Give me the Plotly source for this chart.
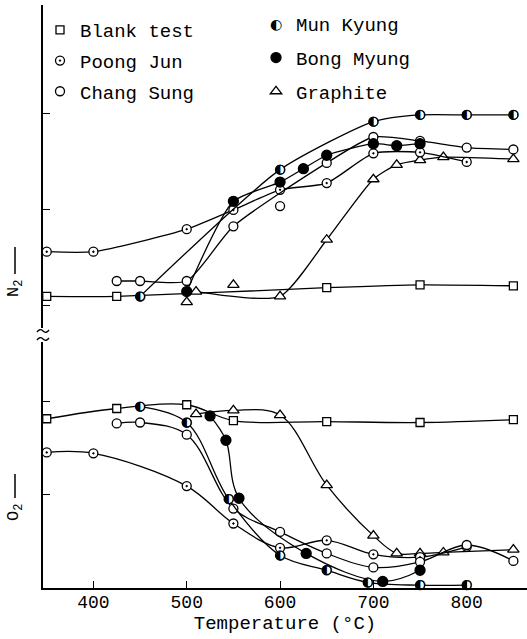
import plotly.graph_objects as go

# ---------------- data ----------------
# Upper panel: N2 signal (arbitrary units)
blank_n2_T = [350, 425, 650, 750, 850]
blank_n2 = [0.09, 0.09, 0.18, 0.21, 0.20]
poong_n2_T = [350, 400, 500, 550, 600, 650, 700, 750, 800]
poong_n2 = [0.555, 0.555, 0.79, 0.99, 1.20, 1.27, 1.58, 1.59, 1.49]
chang_n2_T = [425, 450, 500, 550, 650, 700, 750, 800, 850]
chang_n2 = [0.25, 0.25, 0.25, 0.82, 1.48, 1.75, 1.71, 1.64, 1.62]
chang_n2_extra_T = [600]
chang_n2_extra = [1.03]
mun_n2_T = [450, 600, 700, 750, 800, 850]
mun_n2 = [0.09, 1.41, 1.91, 1.98, 1.98, 1.98]
bong_n2_T = [500, 550, 600, 625, 650, 700, 725, 750]
bong_n2 = [0.14, 1.08, 1.28, 1.42, 1.56, 1.68, 1.66, 1.68]
graph_n2_T = [510, 600, 650, 700, 725, 750, 775, 850]
graph_n2 = [0.14, 0.09, 0.68, 1.31, 1.46, 1.51, 1.54, 1.52]
graph_n2_extra_T = [500, 550]
graph_n2_extra = [0.03, 0.21]

# Lower panel: O2 signal (arbitrary units)
blank_o2_T = [350, 425, 500, 550, 650, 750, 850]
blank_o2 = [1.81, 1.92, 1.96, 1.79, 1.78, 1.77, 1.80]
poong_o2_T = [350, 400, 500, 550, 600, 650, 700, 750, 800]
poong_o2 = [1.45, 1.44, 1.09, 0.69, 0.43, 0.51, 0.36, 0.33, 0.44]
chang_o2_T = [425, 450, 500, 550, 600, 650, 700, 750, 800, 850]
chang_o2 = [1.76, 1.77, 1.64, 0.85, 0.60, 0.37, 0.22, 0.28, 0.46, 0.29]
mun_o2_T = [450, 500, 545, 600, 650, 694, 750, 800]
mun_o2 = [1.94, 1.77, 0.95, 0.35, 0.19, 0.06, 0.03, 0.03]
bong_o2_T = [525, 542, 556, 628, 710, 750]
bong_o2 = [1.84, 1.58, 0.96, 0.37, 0.07, 0.19]
graph_o2_T = [510, 550, 600, 650, 700, 725, 750, 775, 850]
graph_o2 = [1.86, 1.90, 1.85, 1.10, 0.56, 0.37, 0.37, 0.38, 0.41]

x_ticks = [400, 500, 600, 700, 800]

# ---------------- styles ----------------
FONT = "Liberation Mono"
LW = 1.3
HALF = "\u25D0"  # half-filled circle glyph for Mun Kyung
styles = {
    "Blank test": dict(symbol="square", size=8, color="white"),
    "Poong Jun": dict(symbol="circle-dot", size=9, color="white"),
    "Chang Sung": dict(symbol="circle", size=9, color="white"),
    "Mun Kyung": dict(symbol="circle", size=10, color="rgba(0,0,0,0)"),
    "Bong Myung": dict(symbol="circle", size=10, color="black"),
    "Graphite": dict(symbol="triangle-up", size=10, color="white"),
}


def mk(name):
    d = dict(styles[name])
    lc = "rgba(0,0,0,0)" if name == "Mun Kyung" else "black"
    d["line"] = dict(color=lc, width=LW)
    return d


fig = go.Figure()


def add(x, y, name, yaxis, smooth, mode="lines+markers"):
    if name == "Mun Kyung":
        # line + white mask under the glyph, then the half-filled glyph on top
        fig.add_trace(go.Scatter(
            x=x, y=y, mode=mode, name=name, showlegend=False,
            xaxis="x", yaxis=yaxis, cliponaxis=False,
            line=dict(color="black", width=LW, shape="spline", smoothing=smooth),
            marker=dict(symbol="circle", size=9, color="white",
                        line=dict(color="black", width=LW))))
        fig.add_trace(go.Scatter(
            x=x, y=y, mode="text", text=[HALF] * len(x), name=name,
            showlegend=False, xaxis="x", yaxis=yaxis, cliponaxis=False,
            textposition="middle center", hoverinfo="skip",
            textfont=dict(family="DejaVu Sans", size=13, color="black")))
        return
    fig.add_trace(go.Scatter(
        x=x, y=y, mode=mode, name=name, showlegend=False,
        xaxis="x", yaxis=yaxis, cliponaxis=False,
        line=dict(color="black", width=LW, shape="spline", smoothing=smooth),
        marker=mk(name)))


# upper panel (y2)
add(blank_n2_T, blank_n2, "Blank test", "y2", 0.6)
add(graph_n2_T, graph_n2, "Graphite", "y2", 0.6)
add(graph_n2_extra_T, graph_n2_extra, "Graphite", "y2", 0.6, mode="markers")
add(poong_n2_T, poong_n2, "Poong Jun", "y2", 0.6)
add(chang_n2_T, chang_n2, "Chang Sung", "y2", 0.6)
add(chang_n2_extra_T, chang_n2_extra, "Chang Sung", "y2", 0.6, mode="markers")
add(bong_n2_T, bong_n2, "Bong Myung", "y2", 0.6)
add(mun_n2_T, mun_n2, "Mun Kyung", "y2", 0.6)

# lower panel (y)
add(blank_o2_T, blank_o2, "Blank test", "y", 1.0)
add(graph_o2_T, graph_o2, "Graphite", "y", 1.0)
add(poong_o2_T, poong_o2, "Poong Jun", "y", 1.0)
add(chang_o2_T, chang_o2, "Chang Sung", "y", 1.0)
add(bong_o2_T, bong_o2, "Bong Myung", "y", 1.0)
add(mun_o2_T, mun_o2, "Mun Kyung", "y", 1.0)

# legend entries (markers only), split in two columns
for name in ["Blank test", "Poong Jun", "Chang Sung"]:
    fig.add_trace(go.Scatter(x=[None], y=[None], mode="markers", name=name,
                             legendgroup=name, marker=mk(name), legend="legend",
                             xaxis="x", yaxis="y"))
for name in ["Mun Kyung", "Bong Myung", "Graphite"]:
    fig.add_trace(go.Scatter(x=[None], y=[None], mode="markers", name=name,
                             legendgroup=name, marker=mk(name), legend="legend2",
                             xaxis="x", yaxis="y"))

# ---------------- layout ----------------
W, H = 527, 639
ML, MR, MT, MB = 43, 0, 5, 51
PW, PH = W - ML - MR, H - MT - MB


def px(x):
    return (x - ML) / PW


def py(y):
    return (H - MB - y) / PH


axis_common = dict(showgrid=False, zeroline=False, showline=True, linecolor="black",
                   linewidth=1.5, ticks="inside", ticklen=7, tickwidth=1.3,
                   tickcolor="black", showticklabels=False)

fig.update_layout(
    width=W, height=H,
    margin=dict(l=ML, r=MR, t=MT, b=MB),
    paper_bgcolor="white", plot_bgcolor="white",
    font=dict(family=FONT, color="black", size=18),
    xaxis=dict(range=[346, 864.6], anchor="y", showgrid=False, zeroline=False,
               showline=True, linecolor="black", linewidth=1.5,
               ticks="inside", ticklen=7, tickwidth=1.3, tickcolor="black",
               tickvals=x_ticks, ticktext=[str(t) for t in x_ticks],
               tickfont=dict(family=FONT, size=18), ticklabelstandoff=-3,
               title=dict(text="Temperature (°C)", font=dict(family=FONT, size=19),
                          standoff=2)),
    yaxis=dict(domain=[0, py(342)], range=[0, (588 - 342) / 93.5],
               tickvals=[1, 2], **axis_common),
    yaxis2=dict(domain=[py(328), 1], range=[(305 - 328) / 96, 3.125],
                anchor="x", tickvals=[0, 1, 2], **axis_common),
    legend=dict(x=px(40), y=py(11), xanchor="left", yanchor="top",
                font=dict(family=FONT, size=19), bgcolor="rgba(0,0,0,0)",
                tracegroupgap=3),
    legend2=dict(x=px(256), y=py(5), xanchor="left", yanchor="top",
                 font=dict(family=FONT, size=19), bgcolor="rgba(0,0,0,0)",
                 tracegroupgap=6),
)

# half-filled glyph shown in the Mun Kyung legend slot
fig.add_annotation(x=px(276), y=py(24), xref="paper", yref="paper",
                   xanchor="center", yanchor="middle", text=HALF, showarrow=False,
                   font=dict(family="DejaVu Sans", size=14, color="black"))

# y-axis labels with arrows
fig.add_annotation(x=px(15), y=py(289), xref="paper", yref="paper",
                   xanchor="center", yanchor="middle",
                   text="N<sub>2</sub>", textangle=-90, showarrow=False,
                   font=dict(family=FONT, size=17))
fig.add_shape(type="line", xref="paper", yref="paper",
              x0=px(15), x1=px(15), y0=py(274), y1=py(247),
              line=dict(color="black", width=1.5))
fig.add_annotation(x=px(15), y=py(513), xref="paper", yref="paper",
                   xanchor="center", yanchor="middle",
                   text="O<sub>2</sub>", textangle=-90, showarrow=False,
                   font=dict(family=FONT, size=17))
fig.add_shape(type="line", xref="paper", yref="paper",
              x0=px(15), x1=px(15), y0=py(498), y1=py(474),
              line=dict(color="black", width=1.5))

# axis break marks
for yb in (331, 339):
    pts = [(37, yb + 1), (40, yb - 3), (43, yb), (46, yb + 3), (49, yb - 1)]
    path = "M {},{} Q {},{} {},{} T {},{}".format(
        px(pts[0][0]), py(pts[0][1]), px(pts[1][0]), py(pts[1][1]),
        px(pts[2][0]), py(pts[2][1]), px(pts[4][0]), py(pts[4][1]))
    fig.add_shape(type="path", xref="paper", yref="paper", path=path,
                  line=dict(color="black", width=1.3))

fig.write_html("out.html")
